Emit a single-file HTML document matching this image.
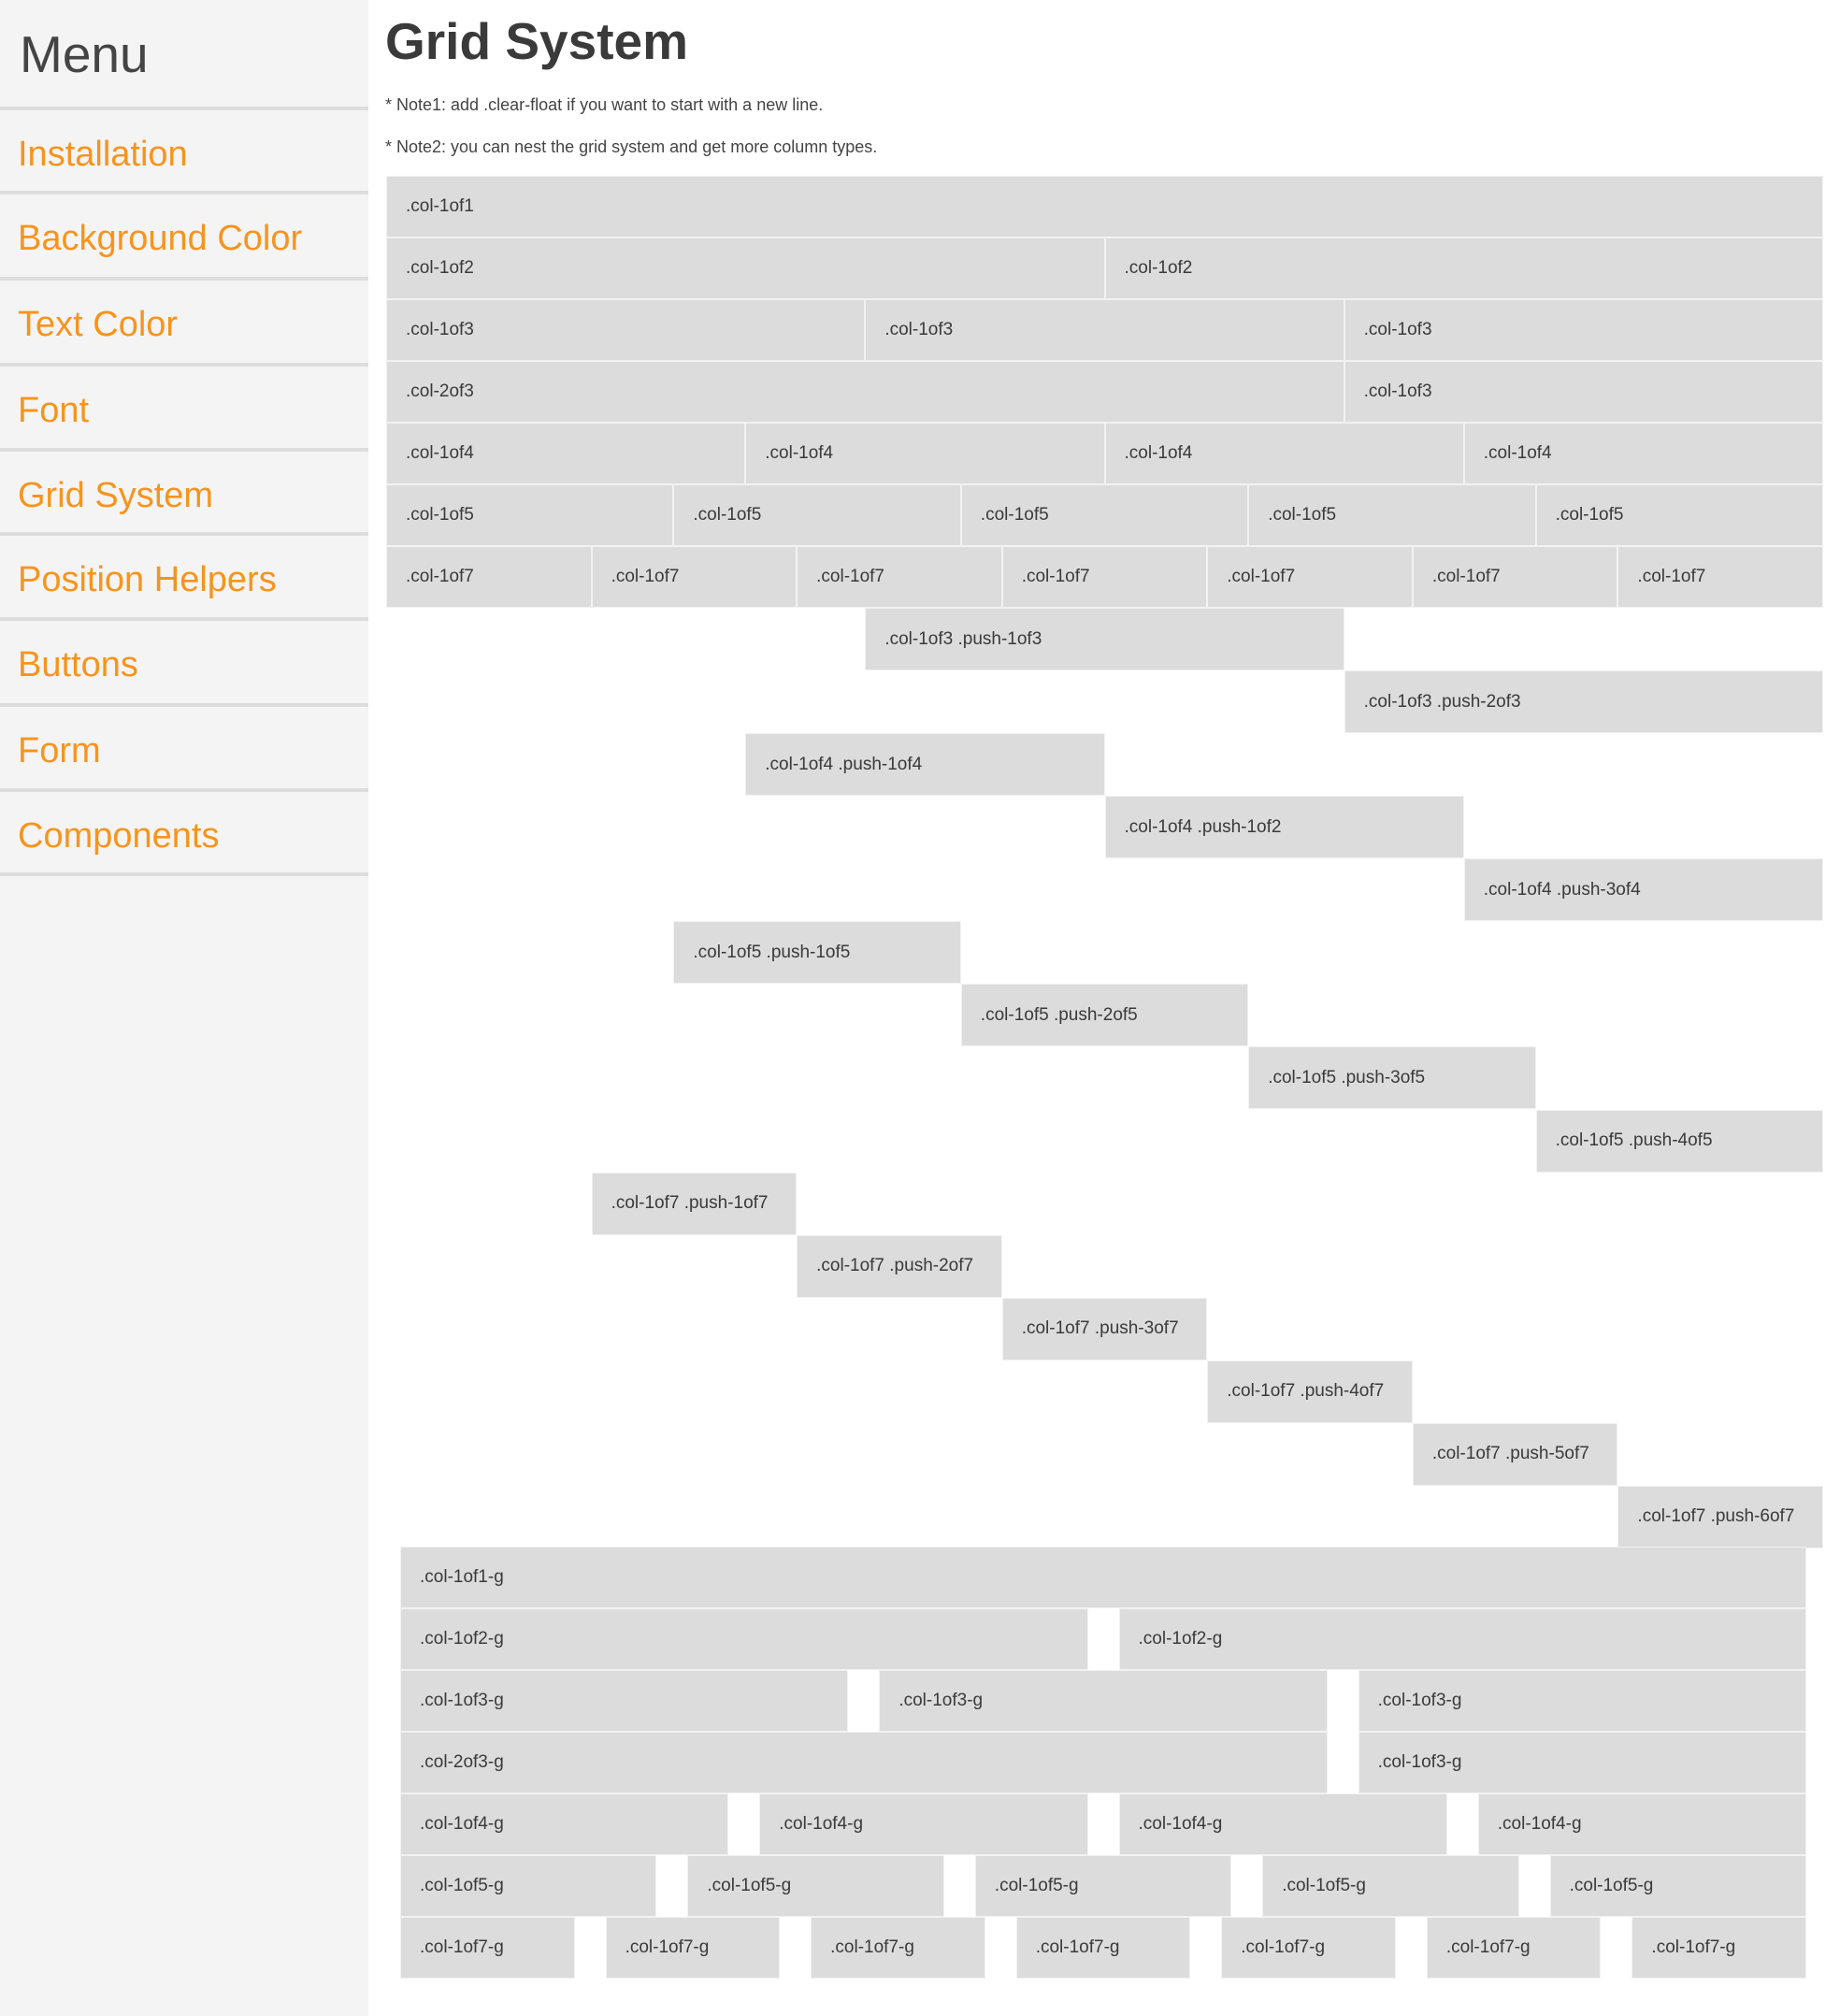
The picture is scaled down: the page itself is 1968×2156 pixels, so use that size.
<!DOCTYPE html>
<html><head><meta charset="utf-8"><style>
html,body{margin:0;padding:0;background:#fff;}
body{width:1968px;height:2156px;position:relative;overflow:hidden;font-family:"Liberation Sans",sans-serif;}
#side{position:absolute;left:0;top:0;width:394px;height:2156px;background:#f4f4f4;}
.sep{position:absolute;left:0;width:394px;height:4px;background:#dddddd;}
.nav{position:absolute;left:19px;font-size:38px;line-height:1;color:#f7941d;white-space:nowrap;}
.t{position:absolute;line-height:1;white-space:nowrap;}
.c{position:absolute;box-sizing:border-box;border:1px solid #f2f2f2;background:#dcdcdc;padding-left:20px;display:flex;align-items:center;font-size:19px;color:#3a3a3a;white-space:nowrap;height:66px;}
.p{height:67px;}
</style></head><body>
<div id="side">
<div class="t" style="left:21px;top:31px;font-size:55px;color:#444;">Menu</div>
<div class="sep" style="top:114px"></div>
<div class="sep" style="top:204px"></div>
<div class="sep" style="top:296px"></div>
<div class="sep" style="top:388px"></div>
<div class="sep" style="top:479px"></div>
<div class="sep" style="top:569px"></div>
<div class="sep" style="top:660px"></div>
<div class="sep" style="top:752px"></div>
<div class="sep" style="top:843px"></div>
<div class="sep" style="top:933px"></div>
<div class="nav" style="top:146px">Installation</div>
<div class="nav" style="top:236px">Background Color</div>
<div class="nav" style="top:328px">Text Color</div>
<div class="nav" style="top:420px">Font</div>
<div class="nav" style="top:511px">Grid System</div>
<div class="nav" style="top:601px">Position Helpers</div>
<div class="nav" style="top:692px">Buttons</div>
<div class="nav" style="top:784px">Form</div>
<div class="nav" style="top:875px">Components</div>
</div>

<div class="t" style="left:412px;top:17px;font-size:55px;font-weight:bold;color:#3a3a3a;">Grid System</div>
<div class="t" style="left:412px;top:103px;font-size:18px;color:#444;">* Note1: add .clear-float if you want to start with a new line.</div>
<div class="t" style="left:412px;top:148px;font-size:18px;color:#444;">* Note2: you can nest the grid system and get more column types.</div>

<div class="c" style="left:413px;top:188px;width:1537px">.col-1of1</div>

<div class="c" style="left:413px;top:254px;width:768.5px">.col-1of2</div>
<div class="c" style="left:1181.5px;top:254px;width:768.5px">.col-1of2</div>

<div class="c" style="left:413px;top:320px;width:512.33px">.col-1of3</div>
<div class="c" style="left:925.33px;top:320px;width:512.33px">.col-1of3</div>
<div class="c" style="left:1437.67px;top:320px;width:512.33px">.col-1of3</div>

<div class="c" style="left:413px;top:386px;width:1024.67px">.col-2of3</div>
<div class="c" style="left:1437.67px;top:386px;width:512.33px">.col-1of3</div>

<div class="c" style="left:413px;top:452px;width:384.25px">.col-1of4</div>
<div class="c" style="left:797.25px;top:452px;width:384.25px">.col-1of4</div>
<div class="c" style="left:1181.5px;top:452px;width:384.25px">.col-1of4</div>
<div class="c" style="left:1565.75px;top:452px;width:384.25px">.col-1of4</div>

<div class="c" style="left:413px;top:518px;width:307.4px">.col-1of5</div>
<div class="c" style="left:720.4px;top:518px;width:307.4px">.col-1of5</div>
<div class="c" style="left:1027.8px;top:518px;width:307.4px">.col-1of5</div>
<div class="c" style="left:1335.2px;top:518px;width:307.4px">.col-1of5</div>
<div class="c" style="left:1642.6px;top:518px;width:307.4px">.col-1of5</div>

<div class="c" style="left:413px;top:584px;width:219.57px">.col-1of7</div>
<div class="c" style="left:632.57px;top:584px;width:219.57px">.col-1of7</div>
<div class="c" style="left:852.14px;top:584px;width:219.57px">.col-1of7</div>
<div class="c" style="left:1071.71px;top:584px;width:219.57px">.col-1of7</div>
<div class="c" style="left:1291.29px;top:584px;width:219.57px">.col-1of7</div>
<div class="c" style="left:1510.86px;top:584px;width:219.57px">.col-1of7</div>
<div class="c" style="left:1730.43px;top:584px;width:219.57px">.col-1of7</div>

<div class="c p" style="left:925.33px;top:650px;width:512.33px">.col-1of3 .push-1of3</div>
<div class="c p" style="left:1437.67px;top:717.07px;width:512.33px">.col-1of3 .push-2of3</div>

<div class="c p" style="left:797.25px;top:784.14px;width:384.25px">.col-1of4 .push-1of4</div>
<div class="c p" style="left:1181.5px;top:851.21px;width:384.25px">.col-1of4 .push-1of2</div>
<div class="c p" style="left:1565.75px;top:918.28px;width:384.25px">.col-1of4 .push-3of4</div>

<div class="c p" style="left:720.4px;top:985.35px;width:307.4px">.col-1of5 .push-1of5</div>
<div class="c p" style="left:1027.8px;top:1052.42px;width:307.4px">.col-1of5 .push-2of5</div>
<div class="c p" style="left:1335.2px;top:1119.49px;width:307.4px">.col-1of5 .push-3of5</div>
<div class="c p" style="left:1642.6px;top:1186.56px;width:307.4px">.col-1of5 .push-4of5</div>

<div class="c p" style="left:632.57px;top:1253.63px;width:219.57px">.col-1of7 .push-1of7</div>
<div class="c p" style="left:852.14px;top:1320.7px;width:219.57px">.col-1of7 .push-2of7</div>
<div class="c p" style="left:1071.71px;top:1387.77px;width:219.57px">.col-1of7 .push-3of7</div>
<div class="c p" style="left:1291.29px;top:1454.84px;width:219.57px">.col-1of7 .push-4of7</div>
<div class="c p" style="left:1510.86px;top:1521.91px;width:219.57px">.col-1of7 .push-5of7</div>
<div class="c p" style="left:1730.43px;top:1588.98px;width:219.57px">.col-1of7 .push-6of7</div>

<div class="c" style="left:428px;top:1654px;width:1504px">.col-1of1-g</div>

<div class="c" style="left:428px;top:1720px;width:735.5px">.col-1of2-g</div>
<div class="c" style="left:1196.5px;top:1720px;width:735.5px">.col-1of2-g</div>

<div class="c" style="left:428px;top:1786px;width:479.33px">.col-1of3-g</div>
<div class="c" style="left:940.33px;top:1786px;width:479.33px">.col-1of3-g</div>
<div class="c" style="left:1452.67px;top:1786px;width:479.33px">.col-1of3-g</div>

<div class="c" style="left:428px;top:1852px;width:991.67px">.col-2of3-g</div>
<div class="c" style="left:1452.67px;top:1852px;width:479.33px">.col-1of3-g</div>

<div class="c" style="left:428px;top:1918px;width:351.25px">.col-1of4-g</div>
<div class="c" style="left:812.25px;top:1918px;width:351.25px">.col-1of4-g</div>
<div class="c" style="left:1196.5px;top:1918px;width:351.25px">.col-1of4-g</div>
<div class="c" style="left:1580.75px;top:1918px;width:351.25px">.col-1of4-g</div>

<div class="c" style="left:428px;top:1984px;width:274.4px">.col-1of5-g</div>
<div class="c" style="left:735.4px;top:1984px;width:274.4px">.col-1of5-g</div>
<div class="c" style="left:1042.8px;top:1984px;width:274.4px">.col-1of5-g</div>
<div class="c" style="left:1350.2px;top:1984px;width:274.4px">.col-1of5-g</div>
<div class="c" style="left:1657.6px;top:1984px;width:274.4px">.col-1of5-g</div>

<div class="c" style="left:428px;top:2050px;width:186.57px">.col-1of7-g</div>
<div class="c" style="left:647.57px;top:2050px;width:186.57px">.col-1of7-g</div>
<div class="c" style="left:867.14px;top:2050px;width:186.57px">.col-1of7-g</div>
<div class="c" style="left:1086.71px;top:2050px;width:186.57px">.col-1of7-g</div>
<div class="c" style="left:1306.29px;top:2050px;width:186.57px">.col-1of7-g</div>
<div class="c" style="left:1525.86px;top:2050px;width:186.57px">.col-1of7-g</div>
<div class="c" style="left:1745.43px;top:2050px;width:186.57px">.col-1of7-g</div>
</body></html>
